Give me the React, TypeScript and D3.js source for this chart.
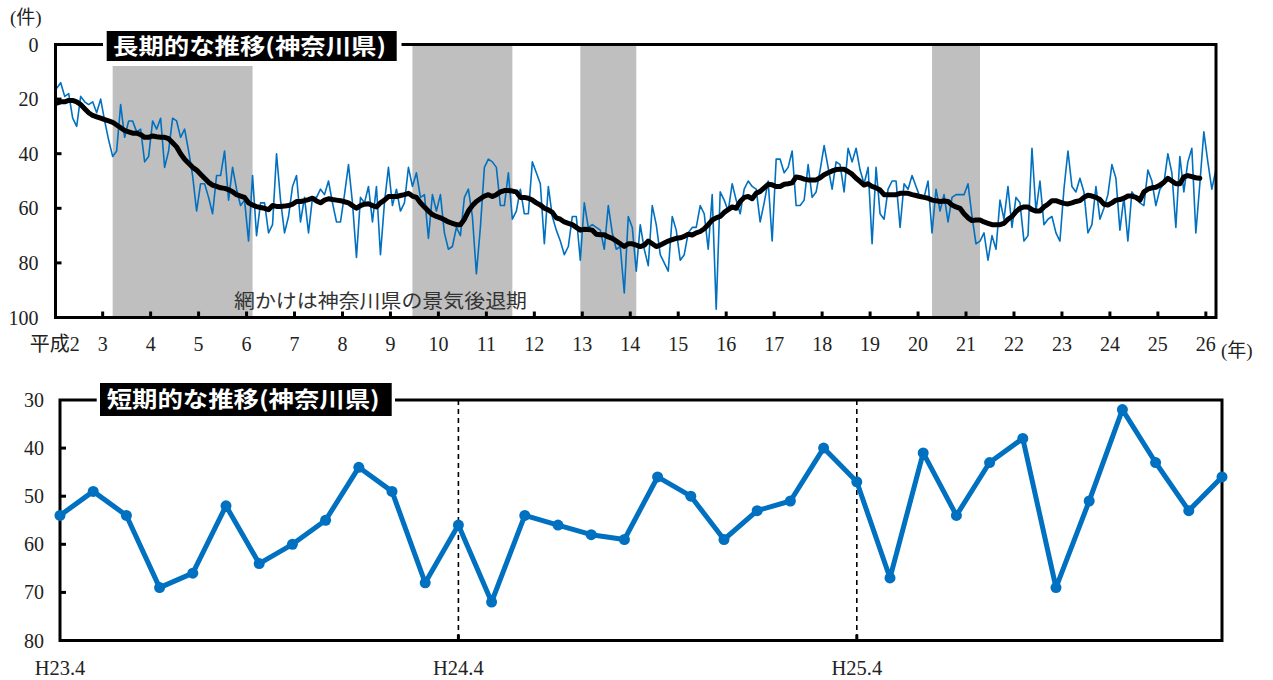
import React from 'react';
import * as d3 from 'd3';

// ---------- DATA ----------
// Long-term monthly series (平成2年1月 – 平成26年3月)
const longMonthly: number[] = [
  // H2
  16, 14, 19, 18, 27, 30, 19, 21, 22, 21, 25, 20,
  // H3
  28, 35, 41, 39, 22, 34, 28, 28, 32, 31, 43, 41,
  // H4
  28, 31, 27, 45, 39, 27, 28, 34, 31, 39, 48, 61,
  // H5
  51, 51, 56, 62, 48, 48, 39, 57, 45, 53, 59, 57,
  // H6
  72, 48, 70, 58, 58, 69, 66, 40, 57, 69, 63, 52,
  // H7
  48, 65, 56, 69, 56, 56, 53, 55, 50, 58, 65, 65,
  // H8
  55, 44, 58, 78, 56, 58, 52, 65, 52, 77, 58, 45,
  // H9
  59, 53, 61, 58, 45, 52, 47, 56, 55, 71, 55, 61,
  // H10
  55, 69, 75, 74, 67, 70, 56, 53, 63, 84, 67, 45,
  // H11
  42, 43, 45, 59, 59, 47, 64, 61, 53, 62, 62, 43,
  // H12
  47, 51, 73, 52, 63, 68, 72, 77, 74, 63, 63, 79,
  // H13
  58, 67, 66, 67, 68, 75, 59, 69, 75, 74, 91, 63,
  // H14
  67, 83, 66, 75, 81, 59, 66, 77, 80, 83, 63, 68,
  // H15
  79, 77, 69, 67, 67, 59, 62, 75, 55, 97, 54, 57,
  // H16
  61, 51, 57, 62, 53, 50, 52, 53, 65, 58, 50, 72,
  // H17
  42, 42, 47, 45, 39, 59, 59, 57, 44, 56, 54, 46,
  // H18
  37, 45, 53, 43, 44, 54, 38, 43, 38, 46, 51, 45,
  // H19
  73, 45, 62, 64, 53, 50, 50, 67, 51, 53, 48, 52,
  // H20
  56, 56, 50, 69, 53, 61, 55, 65, 56, 55, 55, 55,
  // H21
  51, 63, 73, 72, 69, 79, 70, 75, 57, 64, 52, 67,
  // H22
  56, 58, 72, 70, 38, 61, 50, 66, 64, 63, 69, 72,
  // H23
  53, 39, 52, 54, 49, 54, 69, 66, 52, 64, 60, 55,
  // H24
  44, 49, 68, 56, 72, 54, 56, 58, 59, 46, 50, 59,
  // H25
  53, 51, 40, 47, 67, 41, 54, 43, 38, 69, 51, 32,
  // H26
  43, 53, 46,
];

// Trend (thick black line)
const longTrend: number[] = [
  21.5, 21, 21, 20.5, 20.5, 21, 22, 23.5, 25, 26, 26.5, 27,
  27.5, 28, 28.5, 29.5, 30.5, 31.5, 32, 32.5, 32.5, 33, 34, 34,
  33.5, 33.8, 34, 34, 34.5, 36, 37.5, 40, 42, 43.5, 45, 46,
  47.5, 49, 50.5, 51.5, 52, 52.5, 52.7, 53.2, 53.9, 55, 55.5, 56,
  58, 58.8, 59.4, 59.7, 60, 60.5, 59, 59.3, 59.3, 59.2, 59, 58.5,
  57.5, 57.5, 57.2, 56.8, 56.3, 57.3, 58, 57, 56.5, 56.8, 57, 57.2,
  57.6, 58, 59, 60, 59, 58.5, 58.3, 59, 59.5, 58, 57, 55.7,
  55.7, 55.7, 55.3, 55, 54.5, 55.5, 56, 58, 59.5, 61, 62.3, 63,
  63.5, 64.2, 65, 65.5, 66, 66, 64, 61, 59, 57.5, 56.5, 55.5,
  55, 55.7, 55, 54, 53.5, 53.5, 53.7, 54, 56, 56, 56.3, 57,
  58, 58.8, 60, 60.6, 61.5, 63.5, 64, 65, 65.5, 66, 67, 68,
  67.7, 67.8, 68, 69.5, 69.7, 69.7, 70.5, 71, 72, 73, 74, 73,
  73, 73.5, 74, 73.5, 72, 73, 74, 73.5, 72.7, 72, 71.5, 71,
  70.8, 70.3, 69.5, 69.8, 69, 68.5, 67.5, 66, 64.3, 63.5, 63, 61.5,
  60.5, 59.5, 60, 57.5, 56, 55.7, 56.5, 54.5, 53.8, 52.5, 51.2, 51.4,
  52, 52, 51.2, 51, 50.7, 48.5, 48.8, 49.3, 49.6, 49.6, 49.6, 48.8,
  47.7, 47, 46.3, 45.8, 45.7, 45.7, 46.5, 47.5, 49, 50.2, 51.5, 51,
  52, 52.5, 53.3, 55, 55, 55, 55, 54.5, 54.5, 54.5, 55, 55.3,
  55.7, 56, 56.3, 57, 57.2, 57.5, 57.3, 57.5, 58.8, 59.5, 60, 62,
  63.5, 64.5, 64.3, 64.3, 65, 65.5, 66, 66, 66, 65.5, 64, 63,
  61.2, 60, 59.5, 59.5, 60.5, 61, 61, 59.5, 58.5, 57.2, 57.2, 57.7,
  58.2, 58.4, 58, 57.5, 57.2, 56, 55.2, 55.5, 56, 56.8, 58.5, 58.8,
  58, 57, 56.8, 56.3, 55.5, 55.5, 56, 57, 54, 53, 52.5, 52.3,
  51.5, 50.5, 49, 50, 51, 51, 48.5, 48, 48.4, 48.8, 49,
];

// Recession periods (month index from 平成2年1月)
const recessionStart: number[] = [14, 89, 131, 219];
const recessionEnd: number[] = [49, 114, 145, 231];

const yearLabels: string[] = [
  '平成2', '3', '4', '5', '6', '7', '8', '9', '10', '11', '12', '13', '14',
  '15', '16', '17', '18', '19', '20', '21', '22', '23', '24', '25', '26',
];
const topTicks: number[] = [0, 20, 40, 60, 80, 100];

// Short-term monthly series (H23.4 – H26.3)
const shortValues: number[] = [
  54, 49, 54, 69, 66, 52, 64, 60, 55, 44, 49, 68,
  56, 72, 54, 56, 58, 59, 46, 50, 59, 53, 51, 40,
  47, 67, 41, 54, 43, 38, 69, 51, 32, 43, 53, 46,
];
const shortLabels: string[] = ['H23.4', 'H24.4', 'H25.4'];
const shortLabelIdx: number[] = [0, 12, 24];
const bottomTicks: number[] = [30, 40, 50, 60, 70, 80];

const BLUE = '#0070C0';
const SERIF = '"Liberation Serif", "DejaVu Serif", "Noto Sans CJK JP", serif';
const GOTHIC = '"Noto Sans CJK JP", "Noto Sans", sans-serif';

export default function App() {
  // ----- top chart -----
  const tL = 55.5, tR = 1216, tT = 44.5, tB = 317.5;
  const xTop = d3.scaleLinear().domain([0, longMonthly.length - 1]).range([56.7, 56.7 + 3.997 * (longMonthly.length - 1)]);
  const yTop = d3.scaleLinear().domain([0, 100]).range([tT, tB]);
  const lineTop = d3.line<number>().x((_, i) => xTop(i)).y((d) => yTop(d));
  const yearX = (k: number) => xTop(k * 12 - 0.5);

  // ----- bottom chart -----
  const bL = 60, bR = 1222, bT = 400, bB = 640.5;
  const xBot = d3.scaleLinear().domain([0, shortValues.length - 1]).range([bL, bR]);
  const yBot = d3.scaleLinear().domain([30, 80]).range([bT, bB]);
  const lineBot = d3.line<number>().x((_, i) => xBot(i)).y((d) => yBot(d));

  return (
    <svg width={1273} height={680} style={{ position: 'absolute', left: 0, top: 0, background: '#fff' }}>
      <rect x={0} y={0} width={1273} height={680} fill="#fff" />

      {/* ===== TOP CHART ===== */}
      {recessionStart.map((s, k) => (
        <rect key={'rb' + k} x={xTop(s)} y={tT} width={xTop(recessionEnd[k]) - xTop(s)} height={tB - tT} fill="#BFBFBF" />
      ))}
      <text x={234} y={308} fontFamily={GOTHIC} fontSize={19.5} fill="#333" textLength={293} lengthAdjust="spacingAndGlyphs">
        網かけは神奈川県の景気後退期
      </text>
      <path d={lineTop(longMonthly) || ''} fill="none" stroke={BLUE} strokeWidth={1.6} strokeLinejoin="round" />
      <path d={lineTop(longTrend) || ''} fill="none" stroke="#000" strokeWidth={5} strokeLinejoin="round" strokeLinecap="round" />

      {/* frame */}
      <rect x={tL} y={tT} width={tR - tL} height={tB - tT} fill="none" stroke="#000" strokeWidth={3} />
      {topTicks.map((t) => (
        <g key={'yt' + t}>
          <line x1={tL} x2={tL + 6} y1={yTop(t)} y2={yTop(t)} stroke="#000" strokeWidth={3} />
          <text x={38.5} y={yTop(t)} dy="0.35em" textAnchor="end" fontFamily={SERIF} fontSize={20} fill="#222">{t}</text>
        </g>
      ))}
      {yearLabels.map((lab, k) => (
        <g key={'xt' + k}>
          {k > 0 && <line x1={yearX(k)} x2={yearX(k)} y1={tB} y2={tB - 6} stroke="#000" strokeWidth={3} />}
          <text x={yearX(k)} y={351} textAnchor="middle" fontFamily={SERIF} fontSize={20} fill="#222">{lab}</text>
        </g>
      ))}
      <text x={10} y={24} fontFamily={SERIF} fontSize={19} fill="#222">(件)</text>
      <text x={1221} y={357} fontFamily={SERIF} fontSize={19} fill="#222">(年)</text>

      {/* title top */}
      <rect x={103} y={29} width={298.5} height={37} fill="#fff" />
      <rect x={106.7} y={31} width={290} height={30} fill="#000" />
      <text x={113} y={54} fontFamily={GOTHIC} fontWeight={700} fontSize={22} fill="#fff" textLength={273} lengthAdjust="spacingAndGlyphs">
        長期的な推移(神奈川県)
      </text>

      {/* ===== BOTTOM CHART ===== */}
      {shortLabelIdx.slice(1).map((idx) => (
        <line key={'dl' + idx} x1={xBot(idx)} x2={xBot(idx)} y1={bT} y2={bB} stroke="#000" strokeWidth={1.6} strokeDasharray="5,4" />
      ))}
      <rect x={bL} y={bT} width={bR - bL} height={bB - bT} fill="none" stroke="#000" strokeWidth={3} />
      {bottomTicks.map((t) => (
        <g key={'by' + t}>
          {t > 30 && t < 80 && <line x1={bL} x2={bL + 6} y1={yBot(t)} y2={yBot(t)} stroke="#000" strokeWidth={3} />}
          <text x={44} y={yBot(t)} dy="0.35em" textAnchor="end" fontFamily={SERIF} fontSize={20} fill="#222">{t}</text>
        </g>
      ))}
      {shortLabelIdx.map((idx, k) => (
        <g key={'bx' + idx}>
          {idx > 0 && <line x1={xBot(idx)} x2={xBot(idx)} y1={bB} y2={bB - 6} stroke="#000" strokeWidth={3} />}
          <text x={xBot(idx)} y={675} textAnchor="middle" fontFamily={SERIF} fontSize={20.5} fill="#222">{shortLabels[k]}</text>
        </g>
      ))}
      <path d={lineBot(shortValues) || ''} fill="none" stroke={BLUE} strokeWidth={5} strokeLinejoin="round" />
      {shortValues.map((v, i) => (
        <circle key={'pt' + i} cx={xBot(i)} cy={yBot(v)} r={5.5} fill={BLUE} />
      ))}

      {/* title bottom */}
      <rect x={96.7} y={380} width={298.3} height={37} fill="#fff" />
      <rect x={100} y={383} width={291.7} height={33} fill="#000" />
      <text x={106.7} y={407} fontFamily={GOTHIC} fontWeight={700} fontSize={22} fill="#fff" textLength={273} lengthAdjust="spacingAndGlyphs">
        短期的な推移(神奈川県)
      </text>
    </svg>
  );
}
